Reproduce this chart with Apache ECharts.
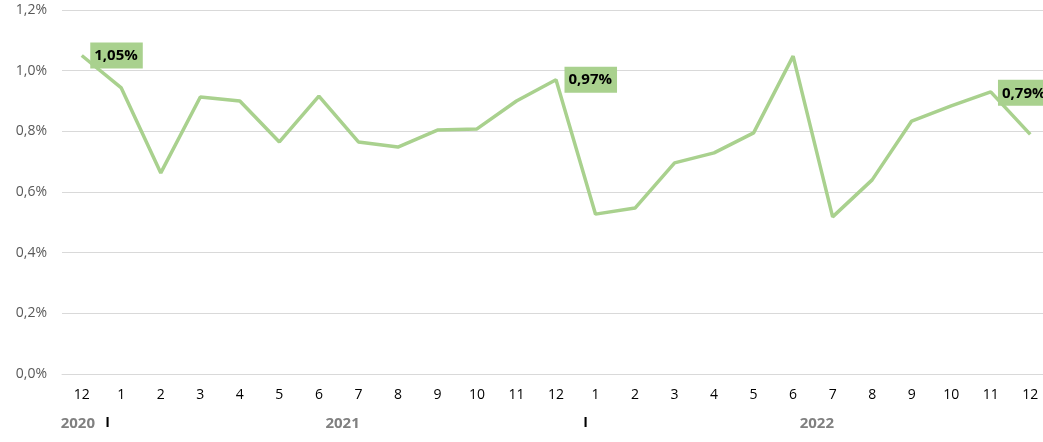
<!DOCTYPE html>
<html><head><meta charset="utf-8">
<script src="https://cdn.jsdelivr.net/npm/echarts@6/dist/echarts.min.js"></script>
<style>html,body{margin:0;padding:0;background:#fff;overflow:hidden}#c{width:1050px;height:442px}</style>
</head><body><div id="c"></div>
<script>
const months = ['12','1','2','3','4','5','6','7','8','9','10','11','12','1','2','3','4','5','6','7','8','9','10','11','12'];
const values = [1.05,0.943,0.663,0.913,0.900,0.765,0.916,0.765,0.748,0.804,0.808,0.900,0.97,0.527,0.547,0.696,0.729,0.795,1.048,0.518,0.640,0.834,0.884,0.930,0.79];
const labeledIdx = [0,12,24];
const yearPos = [-0.1,6.6,18.6];
const yearNames = ['2020','2021','2022'];
const sepPos = [0.65,12.75];
const yTicks = [0,0.2,0.4,0.6,0.8,1.0,1.2];

const fmtPct = (v,d) => v.toFixed(d).replace('.',',')+'%';
const lastLabel = {show:true,position:'top',distance:28,offset:[-6,0]};
const chart = echarts.init(document.getElementById('c'));
chart.setOption({
  animation:false,
  textStyle:{fontFamily:'Open Sans'},
  grid:{left:62,right:0,top:10,bottom:68,containLabel:false},
  xAxis:[{
    type:'category',data:months,boundaryGap:true,
    axisLine:{show:true,lineStyle:{color:'#d9d9d9',width:1}},
    axisTick:{show:false},
    axisLabel:{color:'#000',fontSize:14,margin:14,interval:0}
  },{
    type:'value',position:'bottom',offset:42,min:-0.5,max:24.5,
    axisLine:{show:false},axisTick:{show:false},splitLine:{show:false},
    axisLabel:{
      customValues:[...yearPos,...sepPos],
      showMinLabel:true,showMaxLabel:true,hideOverlap:false,margin:0,
      formatter:function(v){
        const i=yearPos.indexOf(v);
        if(i>=0) return '{y|'+yearNames[i]+'}';
        return '{s|I}';
      },
      rich:{y:{color:'#808080',fontSize:15,fontWeight:'bold'},s:{color:'#000',fontSize:14,fontWeight:'bold'}}
    }
  }],
  yAxis:{
    type:'value',min:0,max:1.2,interval:0.2,
    axisLine:{show:false},axisTick:{show:false},
    splitLine:{lineStyle:{color:'#d9d9d9',width:1}},
    axisLabel:{color:'#595959',fontSize:14,margin:15,formatter:v=>fmtPct(v,1)}
  },
  series:[{
    type:'line',xAxisIndex:0,
    data:values.map((v,i)=>{
      if(!labeledIdx.includes(i)) return v;
      return {value:v,label:(i===values.length-1)?lastLabel:{show:true}};
    }),
    symbol:'circle',symbolSize:1,showSymbol:true,
    itemStyle:{color:'rgba(0,0,0,0)'},
    lineStyle:{color:'#a9d18e',width:3.5},
    label:{show:false,position:'right',distance:8,
      formatter:p=>fmtPct(p.value,2),
      backgroundColor:'#a9d18e',color:'#000',fontWeight:'bold',fontSize:15,
      padding:[6,5,5,4]}
  }]
});
</script></body></html>
